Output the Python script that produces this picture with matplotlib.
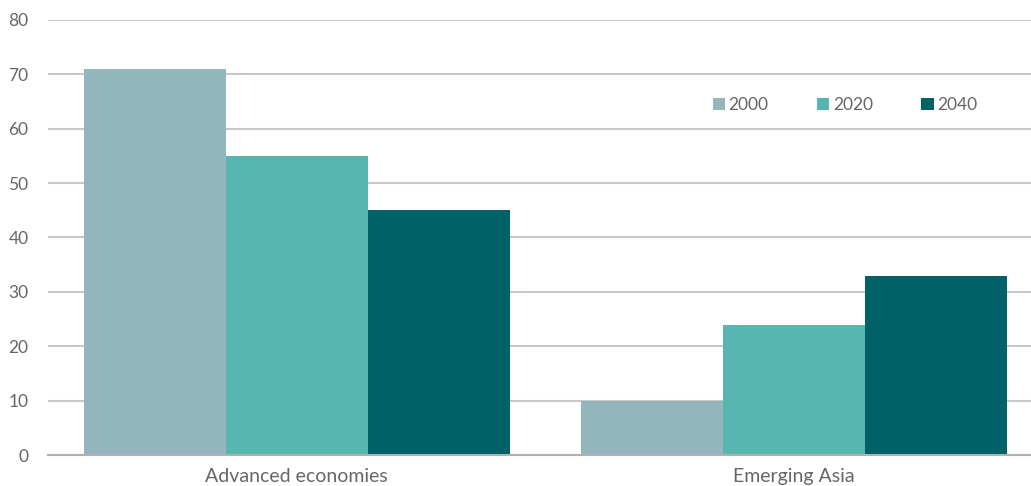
import matplotlib.pyplot as plt
import numpy as np

# data
categories = ['Advanced economies', 'Emerging Asia']
years = ['2000', '2020', '2040']
vals_2000 = [71, 10]
vals_2020 = [55, 24]
vals_2040 = [45, 33]
colors = ['#93B6BC', '#58B6B1', '#006166']

plt.rcParams['font.family'] = ['Lato', 'DejaVu Sans']

fig = plt.figure(figsize=(10.31, 4.86), dpi=100)
ax = fig.add_axes([48 / 1031, (486 - 455) / 486, (1031 - 48) / 1031, 435 / 486])

x = np.arange(len(categories))
w = 0.2854
for i, (vals, lab) in enumerate(zip([vals_2000, vals_2020, vals_2040], years)):
    ax.bar(x + (i - 1) * w, vals, width=w, color=colors[i], label=lab, zorder=2)

ax.set_xlim(-0.5, 1.476)
ax.set_ylim(0, 80)
ax.set_yticks(range(0, 81, 10))
ax.set_xticks(x)
ax.set_xticklabels(categories)
ax.grid(axis='y', color='#C8C8C8', linewidth=1.5, zorder=0)
for s in ['top', 'right', 'left']:
    ax.spines[s].set_visible(False)
ax.spines['bottom'].set_color('#B0B0B0')
ax.spines['bottom'].set_linewidth(1.5)
ax.tick_params(axis='y', length=0, pad=14, labelsize=12.5, labelcolor='#666666')
ax.tick_params(axis='x', length=0, pad=9, labelsize=14, labelcolor='#666666')

ax.legend(loc='center', bbox_to_anchor=((845 - 48) / 983, (486 - 105 - 31) / 435),
          ncol=3, frameon=False, fontsize=12.5, labelcolor='#666666',
          handlelength=0.7, handleheight=0.7, handletextpad=0.2, columnspacing=2.8)

fig.savefig('out.png', dpi=100)
